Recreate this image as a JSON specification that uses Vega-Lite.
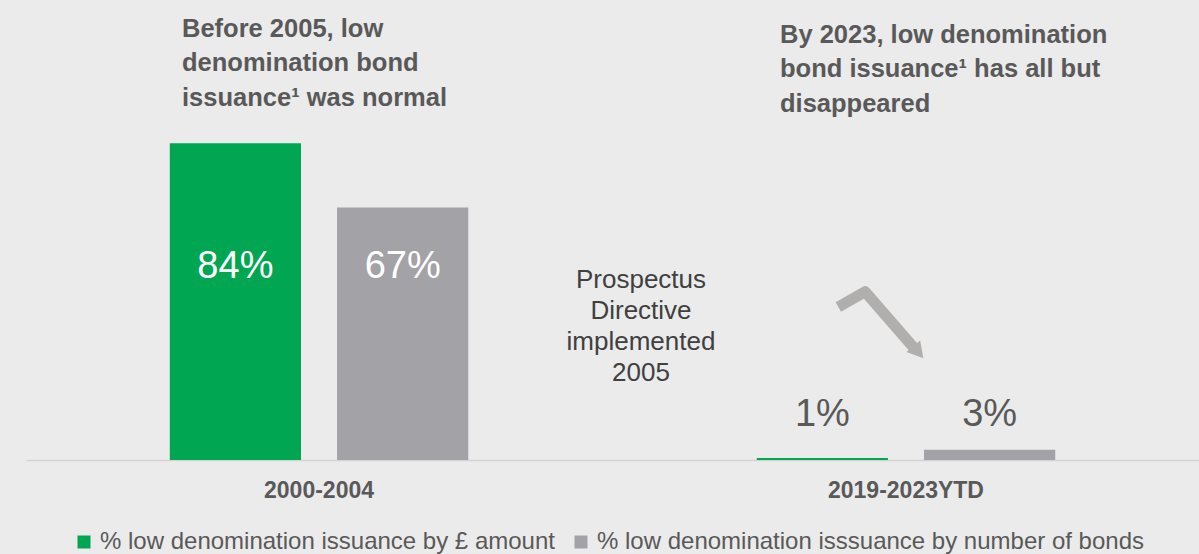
{
  "$schema": "https://vega.github.io/schema/vega-lite/v6.json",
  "width": 1173,
  "height": 460,
  "autosize": {"type": "none"},
  "padding": {"left": 26, "top": 0, "right": 0, "bottom": 94},
  "background": "#ebebeb",
  "config": {
    "font": "Liberation Sans",
    "view": {"stroke": null}
  },
  "datasets": {
    "bars": [
      {"period": "2000-2004", "series": "% low denomination issuance by £ amount", "value": 0.84, "label": "84%"},
      {"period": "2000-2004", "series": "% low denomination isssuance by number of bonds", "value": 0.67, "label": "67%"},
      {"period": "2019-2023YTD", "series": "% low denomination issuance by £ amount", "value": 0.005, "label": "1%"},
      {"period": "2019-2023YTD", "series": "% low denomination isssuance by number of bonds", "value": 0.027, "label": "3%"}
    ],
    "arrow": [
      {"step": 1, "ax": 0.6925, "ay": 0.4058},
      {"step": 2, "ax": 0.7153, "ay": 0.4464},
      {"step": 3, "ax": 0.757, "ay": 0.2971}
    ]
  },
  "layer": [
    {
      "data": {"name": "bars"},
      "encoding": {
        "x": {
          "field": "period",
          "type": "nominal",
          "sort": ["2000-2004", "2019-2023YTD"],
          "scale": {"paddingInner": 0.4915, "paddingOuter": 0.245},
          "axis": {
            "title": null,
            "labelAngle": 0,
            "ticks": false,
            "domainColor": "#d3d3d3",
            "domainWidth": 1.5,
            "labelFontSize": 23,
            "labelFontWeight": "bold",
            "labelColor": "#595959",
            "labelPadding": 19
          }
        },
        "xOffset": {
          "field": "series",
          "type": "nominal",
          "sort": ["% low denomination issuance by £ amount", "% low denomination isssuance by number of bonds"],
          "scale": {"paddingInner": 0.2156, "paddingOuter": 0}
        }
      },
      "layer": [
        {
          "mark": {"type": "bar"},
          "encoding": {
            "y": {"field": "value", "type": "quantitative", "scale": {"domain": [0, 1.22], "nice": false}, "axis": null},
            "color": {
              "field": "series",
              "type": "nominal",
              "sort": ["% low denomination issuance by £ amount", "% low denomination isssuance by number of bonds"],
              "scale": {"range": ["#00a651", "#a3a2a6"]},
              "legend": {
                "title": null,
                "orient": "none",
                "legendX": 46,
                "legendY": 530,
                "direction": "horizontal",
                "symbolType": "square",
                "symbolSize": 169,
                "symbolStrokeWidth": 0,
                "labelFontSize": 24,
                "labelColor": "#595959",
                "labelOffset": 4,
                "columnPadding": 14,
                "labelLimit": 800
              }
            }
          }
        },
        {
          "transform": [{"filter": "datum.period === '2000-2004'"}],
          "mark": {"type": "text", "color": "white", "fontSize": 38, "baseline": "alphabetic", "align": "center"},
          "encoding": {
            "y": {"datum": 0.483, "type": "quantitative"},
            "text": {"field": "label"}
          }
        },
        {
          "transform": [{"filter": "datum.period === '2019-2023YTD'"}],
          "mark": {"type": "text", "color": "#595959", "fontSize": 38, "baseline": "alphabetic", "align": "center"},
          "encoding": {
            "y": {"datum": 0.09, "type": "quantitative"},
            "text": {"field": "label"}
          }
        }
      ]
    },
    {
      "layer": [
        {
          "data": {"name": "arrow"},
          "mark": {"type": "line", "color": "#b1aeae", "strokeWidth": 11, "strokeJoin": "round", "strokeCap": "butt"},
          "encoding": {
            "x": {"field": "ax", "type": "quantitative", "scale": {"domain": [0, 1], "nice": false, "zero": false}, "axis": null},
            "y": {"field": "ay", "type": "quantitative"},
            "order": {"field": "step"}
          }
        },
        {
          "data": {"values": [{}]},
          "mark": {"type": "point", "shape": "triangle-up", "filled": true, "color": "#b1aeae", "opacity": 1, "size": 324, "angle": 140},
          "encoding": {
            "x": {"datum": 0.7607, "type": "quantitative"},
            "y": {"datum": 0.2857, "type": "quantitative"}
          }
        },
        {
          "data": {"values": [{}]},
          "mark": {"type": "text", "fontSize": 25.5, "fontWeight": "bold", "color": "#595959", "align": "left", "baseline": "alphabetic", "lineHeight": 34.5,
            "text": ["Before 2005, low", "denomination bond", "issuance¹ was normal"]},
          "encoding": {
            "x": {"datum": 0.133, "type": "quantitative"},
            "y": {"datum": 1.122, "type": "quantitative"}
          }
        },
        {
          "data": {"values": [{}]},
          "mark": {"type": "text", "fontSize": 25.5, "fontWeight": "bold", "color": "#595959", "align": "left", "baseline": "alphabetic", "lineHeight": 34.5,
            "text": ["By 2023, low denomination", "bond issuance¹ has all but", "disappeared"]},
          "encoding": {
            "x": {"datum": 0.6428, "type": "quantitative"},
            "y": {"datum": 1.106, "type": "quantitative"}
          }
        },
        {
          "data": {"values": [{}]},
          "mark": {"type": "text", "fontSize": 26, "color": "#404040", "align": "center", "baseline": "alphabetic", "lineHeight": 31,
            "text": ["Prospectus", "Directive", "implemented", "2005"]},
          "encoding": {
            "x": {"datum": 0.5243, "type": "quantitative"},
            "y": {"datum": 0.456, "type": "quantitative"}
          }
        }
      ]
    }
  ],
  "resolve": {"scale": {"x": "independent"}}
}
